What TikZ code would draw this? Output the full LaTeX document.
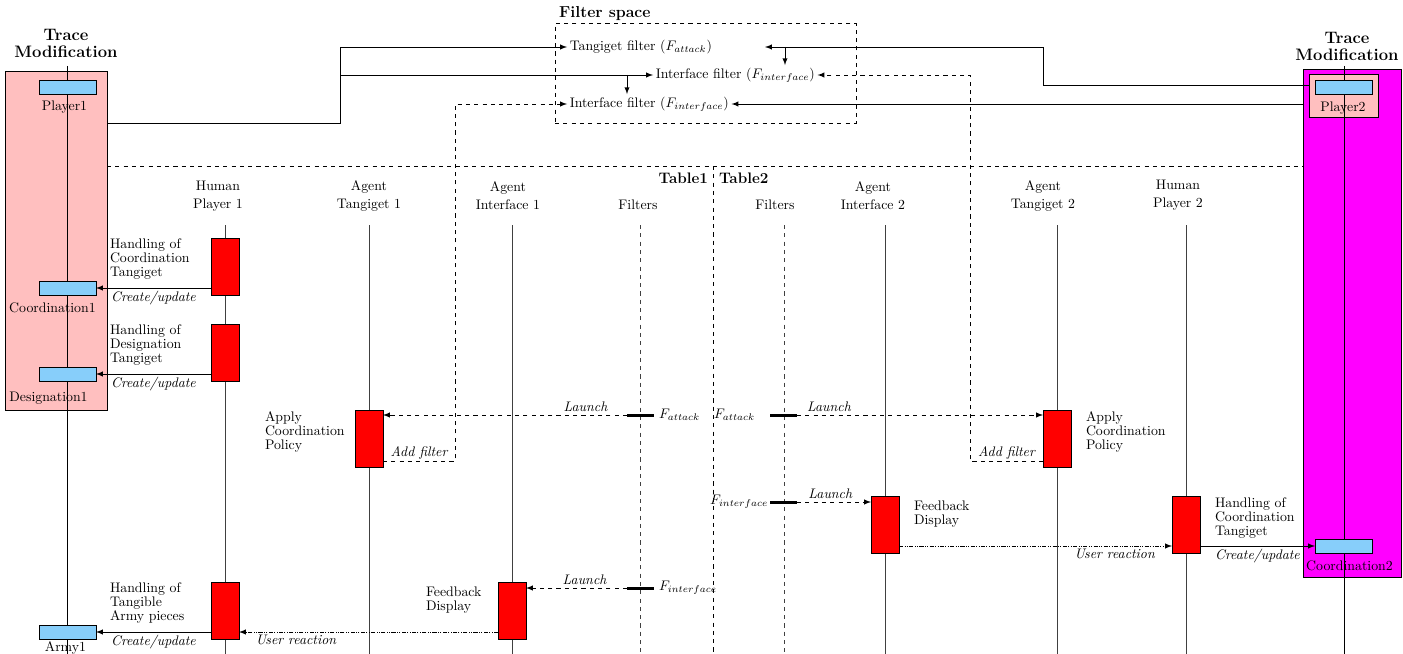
\documentclass[tikz,border=0pt]{standalone}
\usepackage{amsmath, amssymb}
\usepackage{tikz}
\usetikzlibrary{calc, arrows}

\definecolor{tracepink}{RGB}{255,191,191}
\definecolor{tracemagenta}{RGB}{255,0,255}
\definecolor{objblue}{RGB}{135,206,250}
\newcommand{\px}{0.0254cm}

\begin{document}
\begin{tikzpicture}[x=\px, y=-\px, >=latex, line width=0.7pt,
		every node/.style={inner sep=0pt, outer sep=0pt, font=\fontsize{10}{9.8}\selectfont},
		note/.style={align=left, anchor=west},
		head/.style={align=center, font=\fontsize{10}{13}\selectfont},
		bigtitle/.style={align=center, font=\fontsize{12}{12.3}\selectfont\bfseries},
		act/.style={draw, fill=red, minimum width=28*\px, minimum height=57*\px},
		obj/.style={draw, fill=objblue, minimum width=57*\px, minimum height=14*\px},
		tick/.style={fill=black, minimum width=27*\px, minimum height=3*\px},
		lifeline/.style={black!75},
		msg/.style={->},
		lbl/.style={below, yshift=-2pt, font=\itshape}]
	\useasboundingbox (0,0) rectangle (1403,654);

	% trace modification boxes
	\node[draw, fill=tracepink, minimum width=102*\px, minimum height=339*\px] (trL) at (56,240.5) {};
	\node[draw, fill=tracemagenta, minimum width=98*\px, minimum height=508*\px] (trR) at (1352,323) {};
	\node[draw, fill=tracepink, minimum width=69*\px, minimum height=43*\px] (p2box) at (1343.5,95.5) {};
	\node[bigtitle] (ttlL) at (66,43) {Trace\\Modification};
	\node[bigtitle] (ttlR) at (1347,46) {Trace\\Modification};
	\draw (67,66) -- (67,654);
	\draw (1344,66) -- (1344,654);

	\node[obj, label={[xshift=-3*\px, yshift=-7*\px]below:Player1}] (pl1) at (67.5,87) {};
	\node[obj, label={[xshift=-15*\px, yshift=-8*\px]below:Coordination1}] (co1) at (67.5,288) {};
	\node[obj, label={[xshift=-19*\px, yshift=-11*\px]below:Designation1}] (de1) at (67.5,374) {};
	\node[obj, label={[xshift=-2*\px, yshift=-3*\px]below:Army1}] (ar1) at (67.5,632) {};
	\node[obj, label={[xshift=-1*\px, yshift=-7*\px]below:Player2}] (pl2) at (1344,87.5) {};
	\node[obj, label={[xshift=6*\px, yshift=-8*\px]below:Coordination2}] (co2) at (1343.5,546) {};

	% tables
	\coordinate (sep) at (713,166);
	\draw[dashed] (trL.east |- sep) -- (trR.west |- sep);
	\draw[dashed] (sep) -- ++(0,488);
	\node[font=\fontsize{11}{11}\selectfont\bfseries, anchor=east] (tb1) at (708,178) {Table1};
	\node[font=\fontsize{11}{11}\selectfont\bfseries, anchor=west] (tb2) at (719,178) {Table2};

	\node[head] (hp1) at (218,196) {Human\\Player 1};
	\node[head] (ha1) at (369,196) {Agent\\Tangiget 1};
	\node[head] (hi1) at (508,196) {Agent\\Interface 1};
	\node[head] (hf1) at (638,205) {Filters};
	\node[head] (hf2) at (775,205) {Filters};
	\node[head] (hi2) at (873,196) {Agent\\Interface 2};
	\node[head] (ha2) at (1043,196) {Agent\\Tangiget 2};
	\node[head] (hp2) at (1178,195) {Human\\Player 2};

	\foreach \x in {225,369,512,885,1057,1186}
		\draw[lifeline] (\x,225) -- (\x,654);
	\foreach \x in {640,784}
		\draw[lifeline, dashed] (\x,225) -- (\x,654);

	\node[act] (p1a) at (225,266.5) {};
	\node[act] (p1b) at (225,352.5) {};
	\node[act] (p1c) at (225,610.5) {};
	\node[act] (t1a) at (369,438.5) {};
	\node[act] (i1a) at (512,610.5) {};
	\node[act] (t2a) at (1057,438.5) {};
	\node[act] (i2a) at (885,524.5) {};
	\node[act] (p2a) at (1186,524.5) {};

	\node[tick, label={[xshift=5*\px]right:$F_{attack}$}] (fa1) at (640.5,415) {};
	\node[tick, label={[xshift=-15*\px]left:$F_{attack}$}] (fa2) at (783.5,415) {};
	\node[tick, label={[xshift=-2*\px]left:$F_{interface}$}] (fi2) at (783.5,502) {};
	\node[tick, label={[xshift=5*\px]right:$F_{interface}$}] (fi1) at (640.5,588) {};

	% notes
	\node[note] (n1) at (110,259) {Handling of\\Coordination\\Tangiget};
	\node[note] (n2) at (110,345) {Handling of\\Designation\\Tangiget};
	\node[note] (n3) at (110,603) {Handling of\\Tangible\\Army pieces};
	\node[note] (n4) at (265,432) {Apply\\Coordination\\Policy};
	\node[note] (n5) at (1086,432) {Apply\\Coordination\\Policy};
	\node[note] (n6) at (914,514) {Feedback\\Display};
	\node[note] (n7) at (426,600) {Feedback\\Display};
	\node[note] (n8) at (1215,518) {Handling of\\Coordination\\Tangiget};

	% messages
	\draw[msg] (p1a.west |- co1) -- (co1.east) node[midway, lbl] {Create/update};
	\draw[msg] (p1b.west |- de1) -- (de1.east) node[midway, lbl] {Create/update};
	\draw[msg] (p1c.west |- ar1) -- (ar1.east) node[midway, lbl] {Create/update};
	\draw[msg, densely dash dot dot] (i1a.west |- ar1) -- (p1c.east |- ar1) node[pos=.78, lbl] {User reaction};
	\draw[msg, densely dash dot dot] (i2a.east |- co2) -- (p2a.west |- co2) node[pos=.79, lbl] {User reaction};
	\draw[msg] (p2a.east |- co2) -- (co2.west) node[midway, lbl] {Create/update};

	\draw[msg, dashed] (fa1.west) -- (t1a.east |- fa1) node[pos=.17, above, yshift=2.5pt, font=\itshape] {Launch};
	\draw[msg, dashed] (fa2.east) -- (t2a.west |- fa2) node[pos=.13, above, yshift=2.5pt, font=\itshape] {Launch};
	\draw[msg, dashed] (fi2.east) -- (i2a.west |- fi2) node[pos=.45, above, yshift=2.5pt, font=\itshape] {Launch};
	\draw[msg, dashed] (fi1.west) -- (i1a.east |- fi1) node[pos=.42, above, yshift=2.5pt, font=\itshape] {Launch};

	% filter space
	\node[draw, dashed, minimum width=301*\px, minimum height=100*\px,
		label={[anchor=south west, xshift=3pt, yshift=2pt, font=\fontsize{11.5}{11.5}\selectfont\bfseries]north west:Filter space}] (fsp) at (705.5,73) {};
	\node[anchor=west, inner sep=2pt] (fs1) at (567,47) {Tangiget filter ($F_{attack}$)};
	\node[anchor=west, inner sep=2pt] (fs2) at (653,75) {Interface filter ($F_{interface}$)};
	\node[anchor=west, inner sep=2pt] (fs3) at (567,104) {Interface filter ($F_{interface}$)};
	\coordinate (fs1r) at (765,47);

	\draw[msg] ($(trL.north east)+(0,52)$) -- ++(233,0) coordinate (j1) |- (fs1.west);
	\draw[msg] (j1 |- fs2) -- (fs2.west);
	\coordinate (j2) at ($(fs2.west)+(-26,0)$);
	\draw[msg] (j2) -- (j2 |- fs3.north);
	\draw[msg] ($(p2box.north west)+(0,11)$) -- ++(-266,0) |- (fs1r);
	\coordinate (j4) at ($(fs1r)+(20,0)$);
	\draw[msg] (j4) -- (j4 |- fs2.north);
	\draw[msg] (trR.west |- fs3) -- (fs3.east);

	\draw[msg, dashed] ($(t1a.south east)+(0,-6)$) -- ++(72,0) node[midway, above, yshift=1.5pt, font=\itshape] {Add filter} |- (fs3.west);
	\draw[msg, dashed] ($(t2a.south west)+(0,-6)$) -- ++(-73,0) node[midway, above, yshift=1.5pt, font=\itshape] {Add filter} |- (fs2.east);
\end{tikzpicture}
\end{document}
